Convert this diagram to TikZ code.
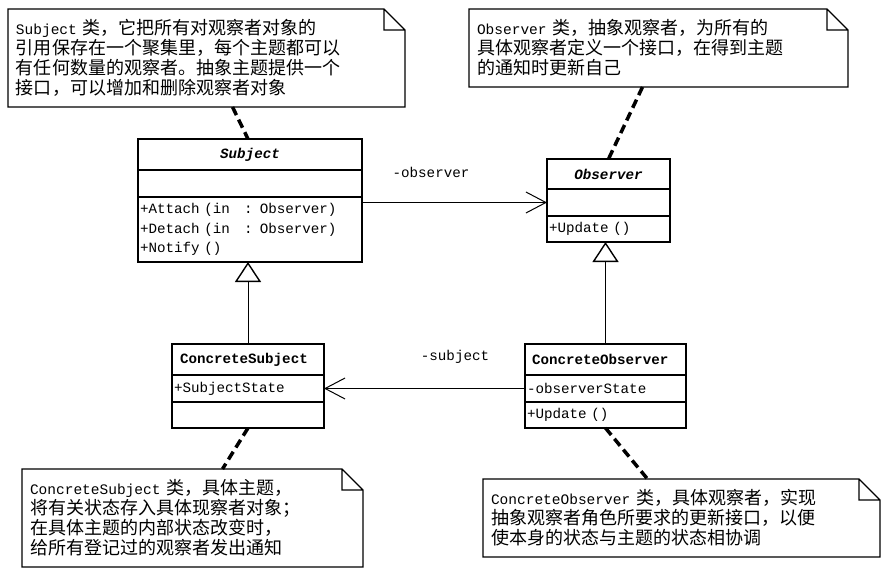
\documentclass[tikz,border=0pt]{standalone}
\usepackage{fontspec}
\setmainfont{Liberation Mono}
\newfontfamily\cjk{Noto Sans CJK SC}
\usetikzlibrary{positioning,arrows.meta}
\newcommand\eng[1]{{\rmfamily\fontsize{14.5}{20}\selectfont #1}}

\begin{document}
\begin{tikzpicture}[x=1pt,y=-1pt,
    cls/.style={draw,line width=1.6pt,outer sep=0pt,inner xsep=2pt,inner ysep=0pt,
      align=left,font=\fontsize{14.2}{19.5}\selectfont},
    note/.style={outer sep=0pt,inner xsep=8pt,inner ysep=0pt,align=left,
      font=\cjk\fontsize{18}{20}\selectfont},
    notefr/.style={line width=1.2pt},
    anchorln/.style={line width=3.5pt,dash pattern=on 9pt off 5pt},
    assoc/.style={line width=1pt,-{Straight Barb[length=20pt,width=21pt]}},
    gen/.style={line width=1pt,-{Triangle[open,fill=white,length=20pt,width=26pt,line width=1.4pt]}},
    lbl/.style={font=\fontsize{14.2}{16}\selectfont,inner sep=0pt}]
 \useasboundingbox (0,0) rectangle (896,577);

 % classes
 \node[cls,text width=220pt,minimum height=31pt,align=center] (S) at (250,154.5) {\textbf{\textit{Subject}}};
 \node[cls,text width=220pt,minimum height=27pt,below=0pt of S] (S-a) {};
 \node[cls,text width=220pt,minimum height=65pt,below=0pt of S-a] (S-o)
  {+Attach (in\ \ \ : Observer)\\+Detach (in\ \ \ : Observer)\\+Notify ()};

 \node[cls,text width=119pt,minimum height=30pt,align=center] (O) at (608.5,174) {\textbf{\textit{Observer}}};
 \node[cls,text width=119pt,minimum height=27pt,below=0pt of O] (O-a) {};
 \node[cls,text width=119pt,minimum height=26pt,below=0pt of O-a] (O-o) {+Update ()};

 \node[cls,text width=136pt,inner xsep=8pt,minimum height=31pt] (CS) at (248,359.5) {\textbf{ConcreteSubject}};
 \node[cls,text width=148pt,minimum height=27pt,below=0pt of CS] (CS-a) {+SubjectState};
 \node[cls,text width=148pt,minimum height=26pt,below=0pt of CS-a] (CS-o) {};

 \node[cls,text width=147pt,inner xsep=7pt,minimum height=31pt] (CO) at (605.5,359.5) {\textbf{ConcreteObserver}};
 \node[cls,text width=157pt,minimum height=27pt,below=0pt of CO] (CO-a) {-observerState};
 \node[cls,text width=157pt,minimum height=26pt,below=0pt of CO-a] (CO-o) {+Update ()};

 % relations
 \node[lbl] (obs-l) at (431,172) {-observer};
 \node[lbl] (sub-l) at (455,357) {-subject};
 \draw[assoc] (S-o.east |- O-a.west) -- (O-a.west);
 \draw[assoc] (CO-a.west) -- (CS-a.east);
 \draw[gen] (CS.north) -- (CS.north |- S-o.south);
 \draw[gen] (CO.north) -- (CO.north |- O-o.south);

 % notes
 \node[note,text width=381pt,minimum height=98pt] (nS) at (206.5,58)
  {\eng{Subject} 类，它把所有对观察者对象的\\引用保存在一个聚集里，每个主题都可以\\有任何数量的观察者。抽象主题提供一个\\接口，可以增加和删除观察者对象};
 \node[note,text width=363pt,minimum height=78pt] (nO) at (658.5,48)
  {\eng{Observer} 类，抽象观察者，为所有的\\具体观察者定义一个接口，在得到主题\\的通知时更新自己};
 \node[note,text width=325pt,minimum height=98pt] (nCS) at (192.5,518)
  {\eng{ConcreteSubject} 类，具体主题，\\将有关状态存入具体现察者对象；\\在具体主题的内部状态改变时，\\给所有登记过的观察者发出通知};
 \node[note,text width=381pt,minimum height=78pt] (nCO) at (681.5,518)
  {\eng{ConcreteObserver} 类，具体观察者，实现\\抽象观察者角色所要求的更新接口，以便\\使本身的状态与主题的状态相协调};
 \foreach \N in {nS,nO,nCS,nCO}
  \draw[notefr] (\N.north west) -- ([xshift=-21pt]\N.north east) -- ([yshift=-21pt]\N.north east)
   -- (\N.south east) -- (\N.south west) -- cycle
   ([xshift=-21pt]\N.north east) |- ([yshift=-21pt]\N.north east);

 \draw[anchorln] ([xshift=26pt]nS.south) -- ([xshift=-2pt]S.north);
 \draw[anchorln] ([xshift=-16pt]nO.south) -- (O.north);
 \draw[anchorln] (CS-o.south) -- ([xshift=30pt]nCS.north);
 \draw[anchorln] (CO-o.south) -- ([xshift=-34pt]nCO.north);
\end{tikzpicture}
\end{document}
